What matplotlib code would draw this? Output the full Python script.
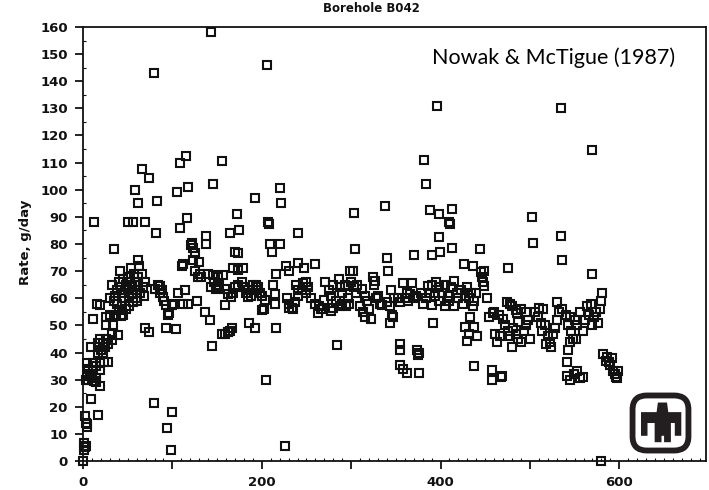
import matplotlib
matplotlib.use("Agg")
import matplotlib.pyplot as plt
from matplotlib.ticker import MultipleLocator, FixedLocator, FixedFormatter
from matplotlib.patches import FancyBboxPatch, Polygon

# ---------------- data (days, g/day) ----------------
days_a = [0, 1, 2, 1, 3, 2, 3, 4, 5, 9, 17, 19, 3, 6, 10, 4, 7.5, 12, 15, 14,
          4, 6, 11, 15, 19, 24, 28, 19, 11, 9, 17, 20, 22, 25, 28, 26, 22, 17, 19,
          32, 32, 39, 26, 34, 26, 30, 11, 45, 16, 19, 12, 35]
rate_a = [0, 6.5, 5, 4, 5.5, 16.5, 14, 12.5, 13.5, 23, 17, 27.5, 30, 30, 30.5, 32, 31.5, 29.5, 30.5, 29,
          36, 34, 33.5, 35, 36, 36.5, 36.5, 33.5, 36, 42, 40, 41, 40, 42, 43, 45, 43.5, 43.5, 45,
          44.5, 47, 46.5, 50, 50, 53, 54, 52.5, 54, 58, 57.5, 88, 78]

days_b = [30, 33, 36, 38, 40, 41, 42, 44, 45, 46, 48, 50, 50, 52, 53, 54, 55, 56, 57, 58,
          60, 60, 61, 62, 63, 64, 66, 67, 68, 69, 62, 35, 38, 40, 44, 48, 52, 56, 60, 37, 42,
          50, 56, 69, 58, 62, 66, 74, 79, 82, 83, 69, 74, 79.5]
rate_b = [60, 65, 61, 63, 66, 70, 64, 62, 67, 60, 65, 63, 68, 61, 66, 71, 64, 62, 69, 66,
          63, 60, 68, 65, 72, 62, 69, 64, 61, 66, 74, 59, 58, 55.5, 57, 56, 57, 58.5, 59, 54, 53.5,
          88, 88, 88, 100, 95, 107.5, 104.5, 143, 84, 96, 49, 47.5, 21.5]

days_c = [81, 86, 86, 89, 91, 93, 95, 96, 93, 94, 98, 100, 100, 88, 84,
          104, 102, 106, 114, 112, 117, 111, 128, 105, 109, 115, 118, 109, 116, 121, 123, 122,
          112, 123, 125, 130, 131, 125, 129, 132, 136, 142, 138, 138, 144, 143, 145,
          140, 146, 151, 152, 151, 147, 143, 149]
rate_c = [63.5, 64.5, 62, 60.5, 59, 57.5, 54, 54.5, 49, 12, 4, 18, 57.5, 63, 65,
          48.5, 58, 62, 63, 58, 58, 72, 59, 99, 110, 112.5, 101, 86, 89.5, 79.5, 78.5, 80.5,
          72.5, 74, 76.5, 73.5, 69, 70, 68, 68, 55, 52, 83, 80, 42.5, 158, 102,
          69, 68.5, 68, 65, 64, 66, 64, 63.5]

days_d = [155, 156, 159, 162, 164, 167, 159, 157, 159, 162, 166, 168, 170, 173,
          173, 170, 168, 173, 179, 164, 172, 174, 178, 180, 182, 185, 188, 190, 193, 196,
          198, 200, 186, 192, 192, 185, 195]
rate_d = [110.5, 47, 47, 47.5, 48, 49, 57.5, 68.5, 63.5, 61.5, 60.5, 62, 64, 65,
          76.5, 77, 71, 70.5, 71, 84, 91, 85, 66, 64, 62, 63, 61, 65, 65, 64,
          62, 61, 51, 49, 97, 60.5, 63]

days_e = [205, 204, 200, 203, 206, 207, 208, 209, 220, 220, 222, 211, 213, 215, 215, 216, 216,
          226, 227, 231, 228, 231, 235, 230, 234, 238, 240, 241, 237,
          240, 241, 247, 246, 250, 245, 249, 252]
rate_e = [30, 59.5, 55.7, 56, 146, 88, 87.5, 80, 80, 100.5, 95, 77, 65, 61.5, 58, 49, 69,
          5.5, 72, 70, 60, 58, 56, 56.3, 56.3, 65, 63, 61, 58.5,
          84, 73, 71, 65.5, 66, 63, 62, 64]

days_f = [259, 255, 260, 264, 268, 263, 270, 266, 271, 275, 278, 280, 284, 283, 286, 288,
          290, 293, 296, 298, 294, 280, 287, 299, 300, 277, 290, 303, 296]
rate_f = [72.5, 60, 58, 57, 56, 54.5, 59.5, 56, 66, 63, 61, 65, 42.8, 59, 67, 64,
          62, 65, 60, 58, 57, 56.5, 57, 70, 66, 55.3, 58, 64, 64.5]

days_g = [303, 304, 302, 305, 307, 310, 313, 316, 320, 322, 325, 327, 326, 318, 328, 332,
          335, 330, 338, 340, 341, 345, 343, 346, 344, 347, 340, 348, 315, 312]
rate_g = [91.5, 78, 70, 62, 65, 57, 55, 53, 56, 52.5, 68, 66.5, 65, 59, 60, 58,
          57.5, 61, 94, 75, 70, 63, 57, 54, 51, 53, 58.5, 60, 61, 63.5]

days_h = [355, 355, 355, 358, 362, 374, 376, 375, 376,
          358, 362, 366, 368, 370, 360, 364, 370, 372, 380, 384, 388, 390, 392, 355, 352,
          382, 384, 388, 398, 398, 390, 399, 396, 391, 395, 398, 394, 398, 386, 378]
rate_h = [43, 41, 35.5, 34, 32.5, 41, 40, 39, 32.5,
          65.5, 62, 61.5, 65.5, 76, 60, 59, 60, 61, 58, 60, 62, 57.5, 51, 58.5, 60,
          111, 102, 92.5, 91, 82.5, 76, 77, 131, 65, 66, 64, 61, 59, 64.5, 62]

days_i = [413, 410, 411, 413, 426, 436, 444, 445, 446, 448, 449, 452,
          402, 405, 408, 410, 412, 415, 418, 420, 423, 425, 427, 430, 432, 434, 436, 438, 440, 415, 405,
          433, 427.5, 437, 431.5, 440.7, 429.5, 438, 449]
rate_i = [93, 88, 87.5, 78.5, 72.5, 72, 78, 69.5, 68, 66, 64.5, 60,
          62, 65, 61, 59, 64, 66.5, 62, 60, 63, 58, 61, 64, 60, 62, 57, 59, 62, 57, 57,
          53, 49.5, 49.5, 47, 46, 44.3, 35, 70]

days_j = [454, 459, 457.5, 457.5, 469, 468, 474, 478, 475, 480, 484, 486, 487,
          461, 463, 466, 472, 475, 478, 481, 484, 487, 490, 493, 496, 480, 470, 465, 460, 490, 496, 498, 500]
rate_j = [53, 54.5, 33.5, 30, 31.5, 31, 58.7, 58, 71, 57, 55.7, 54.4, 51.4,
          47, 44, 46, 50, 48, 46, 49, 47, 45, 44, 48, 50, 42, 52.5, 54, 55, 56, 55, 52, 45]

days_k = [502, 504, 506, 509, 512, 514, 517, 520, 523, 526, 528, 530, 532, 530, 536, 540, 510,
          515, 518, 524, 535, 535, 536, 543, 546, 548, 545,
          541, 541, 545, 549, 553, 556, 559]
rate_k = [90, 80.5, 55, 53, 51, 48, 50, 46, 44, 47, 49, 52, 55, 58.5, 56, 54, 56.5,
          56, 43, 42, 130, 83, 74, 50, 48, 45, 53,
          36.5, 31.5, 30, 32, 33, 30.5, 31]

days_l = [550, 553, 556, 559, 562, 564, 566, 568, 570, 572, 574, 576, 578, 580, 581, 570, 569,
          543, 545, 551,
          582, 585, 588, 586, 590, 592, 593, 595, 596, 598, 597, 579]
rate_l = [52, 50, 55, 48, 52, 57, 54, 58, 50, 53, 55, 51, 56, 59, 62, 69, 114.5,
          41, 44, 45,
          39.5, 37, 36.5, 38.5, 35.5, 38, 33, 32, 31, 33, 30.5, 0]

days = (days_a + days_b + days_c + days_d + days_e + days_f + days_g +
        days_h + days_i + days_j + days_k + days_l)
rates = (rate_a + rate_b + rate_c + rate_d + rate_e + rate_f + rate_g +
         rate_h + rate_i + rate_j + rate_k + rate_l)

x_major = [0, 100, 200, 300, 400, 500, 600, 700]
x_labels = ["0", "", "200", "", "400", "", "600", ""]
y_major = list(range(0, 161, 10))

title = "Borehole B042"
ylabel = "Rate, g/day"
citation = "Nowak & McTigue (1987)"

# ---------------- figure ----------------
W, H = 709, 490
fig = plt.figure(figsize=(W / 100, H / 100), dpi=100)
ax = fig.add_axes([83 / W, 29 / H, (706 - 83) / W, (461 - 27) / H])

ink = "#111111"
ax.plot(days, rates, linestyle="none", marker="s", ms=5.6, mew=1.5,
        mfc="none", mec=ink, clip_on=False, zorder=3)

ax.set_xlim(0, 697)
ax.set_ylim(0, 160)

ax.xaxis.set_major_locator(FixedLocator(x_major))
ax.xaxis.set_major_formatter(FixedFormatter(x_labels))
ax.xaxis.set_minor_locator(MultipleLocator(10))
ax.yaxis.set_major_locator(FixedLocator(y_major))
ax.yaxis.set_minor_locator(MultipleLocator(5))

for sp in ax.spines.values():
    sp.set_linewidth(1.3)
    sp.set_color(ink)

ax.tick_params(axis="both", which="major", direction="out", length=6,
               width=1.3, color=ink, pad=5, labelsize=9.5)
ax.tick_params(axis="both", which="minor", direction="in", length=2.5,
               width=0.8, color=ink)
for lab in ax.get_xticklabels() + ax.get_yticklabels():
    lab.set_fontweight("bold")
    lab.set_color(ink)

fig.text(371 / W, 1 - 9 / H, title, ha="center", va="center",
         fontsize=8.5, fontweight="bold", color=ink)
fig.text(26 / W, 1 - 242 / H, ylabel, ha="center", va="center",
         rotation=90, fontsize=9.5, fontweight="bold", color=ink)
fig.text(432 / W, 1 - 64 / H, citation, ha="left", va="baseline",
         fontsize=15.5, family="Lato", color="#000000")

# ---------------- Sandia thunderbird logo ----------------
lax = fig.add_axes([628 / W, 35 / H, 65 / W, 64 / H])
lax.set_xlim(0, 1)
lax.set_ylim(0, 1)
lax.axis("off")
logo_col = "#231f20"
lax.add_patch(FancyBboxPatch((0.07, 0.07), 0.86, 0.86,
                             boxstyle="round,pad=0,rounding_size=0.22",
                             fc="white", ec=logo_col, lw=4.2))
bird = [(0.46, 0.82), (0.60, 0.82), (0.62, 0.67), (0.82, 0.67), (0.82, 0.30),
        (0.72, 0.30), (0.72, 0.50), (0.66, 0.50), (0.66, 0.20), (0.555, 0.20),
        (0.555, 0.30), (0.515, 0.30), (0.515, 0.20), (0.41, 0.20), (0.41, 0.50),
        (0.30, 0.50), (0.30, 0.30), (0.20, 0.30), (0.20, 0.67), (0.44, 0.67)]
lax.add_patch(Polygon(bird, closed=True, fc=logo_col, ec="none"))

fig.savefig("out.png", dpi=100)
